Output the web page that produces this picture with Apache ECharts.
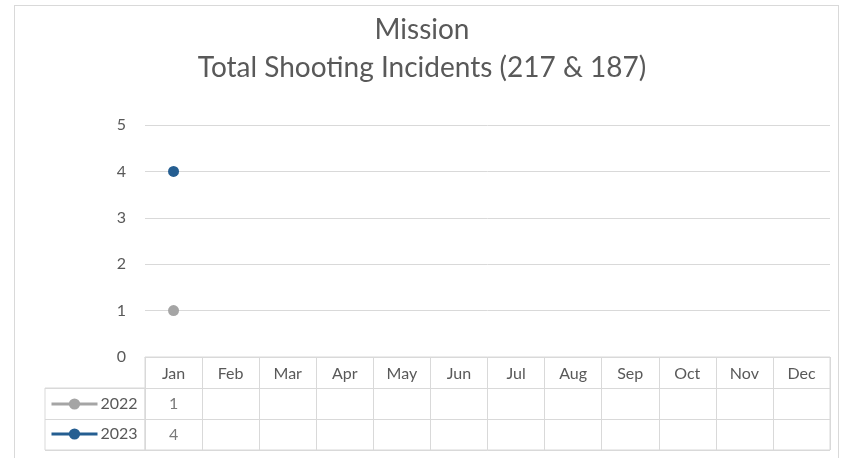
<!DOCTYPE html>
<html><head><meta charset="utf-8">
<script src="https://cdn.jsdelivr.net/npm/echarts@6/dist/echarts.min.js"></script>
<style>
html,body{margin:0;padding:0;background:#fff;}
#c{width:844px;height:458px;position:relative;}
#frame{position:absolute;left:14px;top:5px;width:823px;height:470px;border:1px solid #d9d9d9;pointer-events:none;}
</style></head>
<body><div id="wrap" style="position:relative;width:844px;height:458px;overflow:hidden;"><div id="c"></div><div id="frame"></div></div>
<script>
const titleText = 'Mission\nTotal Shooting Incidents (217 & 187)';
const months = ['Jan','Feb','Mar','Apr','May','Jun','Jul','Aug','Sep','Oct','Nov','Dec'];
const years = ['2022','2023'];
const values2022 = [1,null,null,null,null,null,null,null,null,null,null,null];
const values2023 = [4,null,null,null,null,null,null,null,null,null,null,null];
const yTicks = [0,1,2,3,4,5];
const colors = ['#a5a5a5','#255e91'];

const txt = '#595959', grid = '#d9d9d9', font = 'Lato';
const seriesVals = [values2022, values2023];
const tableData = [];
seriesVals.forEach((arr, r) => arr.forEach((v, i) => { if (v !== null) tableData.push([i, r + 1, v]); }));

const chart = echarts.init(document.getElementById('c'), null, {renderer:'canvas'});
chart.setOption({
  animation:false,
  textStyle:{fontFamily:font},
  title:{text:titleText,left:'center',top:6,textStyle:{fontFamily:font,fontWeight:'normal',fontSize:28,lineHeight:38,color:txt}},
  legend:{orient:'vertical',left:45,top:391,itemWidth:46,itemHeight:14,itemGap:14,
    lineStyle:{width:3},
    textStyle:{fontFamily:font,fontSize:16,color:txt,padding:[0,0,0,-2]},data:years},
  grid:[
    {left:145,right:14,top:125,height:232},
    {left:145,right:14,top:357,height:93,show:true,borderColor:grid,borderWidth:1},
    {left:45,width:100,top:388,height:62,show:true,borderColor:grid,borderWidth:1}
  ],
  xAxis:[
    {gridIndex:0,type:'category',data:months,boundaryGap:true,axisLine:{show:true,lineStyle:{color:grid}},axisTick:{show:false},
      axisLabel:{margin:9,fontSize:16,color:txt,fontFamily:font}},
    {gridIndex:1,type:'category',data:months,boundaryGap:true,axisLine:{show:false},axisTick:{show:false},axisLabel:{show:false},
      splitLine:{show:true,interval:0,lineStyle:{color:grid}}},
    {gridIndex:2,type:'value',show:false}
  ],
  yAxis:[
    {gridIndex:0,type:'value',min:0,max:5,interval:1,axisLine:{show:false},axisTick:{show:false},
      axisLabel:{margin:19,fontSize:16,color:txt,fontFamily:font},splitLine:{lineStyle:{color:grid}}},
    {gridIndex:1,type:'category',data:['',years[0],years[1]],inverse:true,axisLine:{show:false},axisTick:{show:false},axisLabel:{show:false},
      splitLine:{show:true,interval:0,lineStyle:{color:grid}}},
    {gridIndex:2,type:'category',data:years,inverse:true,axisLine:{show:false},axisTick:{show:false},axisLabel:{show:false},
      splitLine:{show:true,interval:0,lineStyle:{color:grid}}}
  ],
  series:[
    {name:years[0],type:'line',xAxisIndex:0,yAxisIndex:0,data:values2022,symbol:'circle',symbolSize:11,
      itemStyle:{color:colors[0]},lineStyle:{color:colors[0],width:3}},
    {name:years[1],type:'line',xAxisIndex:0,yAxisIndex:0,data:values2023,symbol:'circle',symbolSize:11,
      itemStyle:{color:colors[1]},lineStyle:{color:colors[1],width:3}},
    {type:'scatter',xAxisIndex:1,yAxisIndex:1,data:tableData,symbolSize:0,silent:true,
      label:{show:true,position:'inside',formatter:p=>String(p.value[2]),fontSize:16,color:txt,fontFamily:font}}
  ]
});
</script></body></html>
